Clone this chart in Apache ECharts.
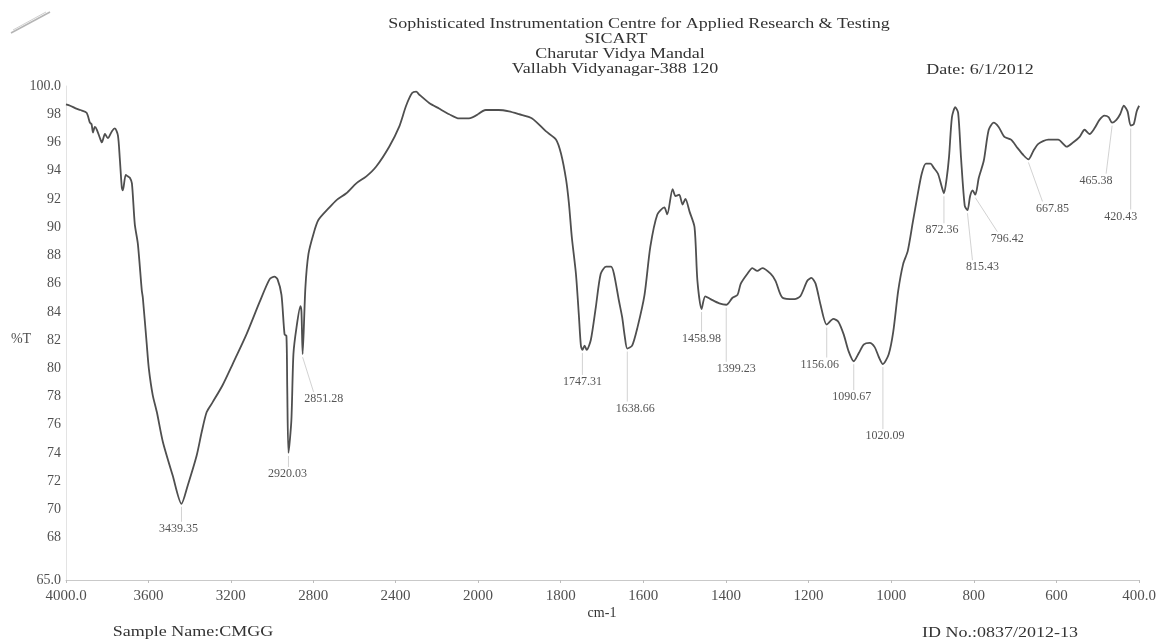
<!DOCTYPE html>
<html>
<head>
<meta charset="utf-8">
<title>FTIR spectrum - CMGG</title>
<script src="https://cdn.jsdelivr.net/npm/echarts@6/dist/echarts.min.js"></script>
<style>
  html, body { margin: 0; padding: 0; background: #ffffff; }
  #chart { width: 1159px; height: 641px; }
</style>
</head>
<body>
<div id="chart"></div>
<script>
// Spectrum, 4000-2000 cm-1 section (wavenumber, %T)
const waveHigh = [4000, 3980, 3950, 3930, 3900, 3884, 3876, 3869, 3860, 3850,
  3835, 3826, 3811, 3797, 3777, 3763, 3748, 3739, 3729, 3724,
  3710, 3700, 3690, 3680, 3666, 3651, 3632, 3627, 3608, 3598,
  3579, 3559, 3530, 3482, 3439.35, 3409, 3366, 3341, 3317, 3288,
  3240, 3191, 3124, 3060, 3012, 2988, 2973, 2954, 2939, 2930,
  2926, 2920.03, 2906, 2896, 2881, 2862, 2857, 2851.28, 2838, 2823,
  2799, 2775, 2721, 2688, 2639, 2591, 2542, 2494, 2431, 2383,
  2349, 2320, 2300, 2286, 2237, 2189, 2140, 2092, 2044, 2000];
const transHigh = [98.7, 98.6, 98.4, 98.3, 98.1, 97.4, 97.3, 96.7, 97.1, 96.9,
  96.3, 96.0, 96.6, 96.3, 96.8, 97.0, 96.5, 94.9, 92.8, 92.6,
  93.7, 93.6, 93.5, 93.1, 90.2, 88.8, 85.5, 85.0, 81.7, 80.0,
  78.1, 76.9, 74.8, 72.4, 70.4, 71.7, 73.8, 75.5, 76.9, 77.6,
  78.8, 80.3, 82.4, 84.7, 86.3, 86.5, 86.3, 85.2, 82.4, 82.3,
  78.6, 74.0, 76.3, 81.0, 82.9, 84.4, 84.0, 81.0, 85.7, 88.1,
  89.5, 90.5, 91.4, 91.9, 92.4, 93.1, 93.6, 94.3, 95.7, 97.1,
  98.6, 99.5, 99.6, 99.4, 98.8, 98.4, 98.0, 97.7, 97.7, 98.0];

// Spectrum, 2000-400 cm-1 section (wavenumber, %T)
const waveLow = [2000, 1981, 1950, 1925, 1901, 1869, 1836, 1811, 1799, 1787,
  1780, 1773, 1763, 1756, 1751, 1747.31, 1742, 1737, 1727, 1715,
  1703, 1690, 1678, 1671, 1659, 1651, 1645, 1638.66, 1627, 1614,
  1597, 1583, 1566, 1549, 1542, 1529, 1522, 1513, 1505, 1498,
  1488, 1476, 1469, 1458.98, 1450, 1437, 1416, 1399.23, 1384, 1372,
  1364, 1348, 1336, 1324, 1312, 1292, 1280, 1263, 1234, 1220,
  1203, 1193, 1183, 1171, 1156.06, 1140, 1128, 1115, 1103, 1090.67,
  1078, 1066, 1052, 1040, 1030, 1020.09, 1006, 995, 983, 971,
  960, 948, 936, 926, 916, 905, 897, 887, 878, 872.36,
  866, 860, 853, 845, 838, 831, 822, 815.43, 809, 803,
  796.42, 788, 776, 764, 752, 740, 726, 710, 694, 680,
  667.85, 656, 644, 620, 596, 575, 560, 544, 532, 520,
  508, 496, 484, 474, 465.38, 455, 446, 437, 428, 420.43,
  413, 406, 400];
const transLow = [98.0, 98.3, 98.3, 98.2, 98.0, 97.7, 96.8, 96.2, 95.2, 93.4,
  91.7, 89.3, 86.7, 83.8, 81.6, 81.3, 81.6, 81.3, 82.0, 84.3,
  86.7, 87.2, 87.2, 86.7, 84.8, 83.6, 82.3, 81.4, 81.6, 82.9,
  85.2, 88.6, 90.9, 91.4, 90.9, 92.7, 92.2, 92.3, 91.6, 92.0,
  91.1, 90.0, 86.2, 84.2, 85.1, 84.9, 84.6, 84.5, 85.0, 85.2,
  86.0, 86.7, 87.1, 86.9, 87.1, 86.7, 86.2, 85.0, 84.9, 85.1,
  86.2, 86.4, 86.0, 84.5, 83.1, 83.5, 83.3, 82.4, 81.2, 80.5,
  81.1, 81.7, 81.8, 81.5, 80.8, 80.3, 81.0, 82.6, 85.5, 87.4,
  88.3, 90.3, 92.3, 93.8, 94.5, 94.5, 94.2, 93.8, 92.9, 92.4,
  93.4, 95.0, 97.8, 98.5, 98.1, 94.9, 91.5, 91.2, 92.2, 92.6,
  92.3, 93.5, 94.7, 96.9, 97.4, 97.1, 96.4, 96.2, 95.6, 95.1,
  94.8, 95.4, 95.9, 96.2, 96.2, 95.7, 96.0, 96.4, 96.9, 96.6,
  97.0, 97.6, 97.9, 97.8, 97.4, 97.6, 98.0, 98.6, 98.2, 97.2,
  97.3, 98.2, 98.6];

// Peak picks (cm-1); their %T is looked up from the spectrum
const peakWave = [3439.35, 2920.03, 2851.28, 1747.31, 1638.66, 1458.98, 1399.23,
  1156.06, 1090.67, 1020.09, 872.36, 815.43, 796.42, 667.85, 465.38, 420.43];

// Axis tick values
const xTicksHigh = [2000, 2400, 2800, 3200, 3600, 4000];
const xTicksLow = [400, 600, 800, 1000, 1200, 1400, 1600, 1800, 2000];
const yTicks = [65, 68, 70, 72, 74, 76, 78, 80, 82, 84, 86, 88, 90, 92, 94, 96, 98, 100];

// Placement of each peak tag relative to its peak, in pixels [dx, dy]
const peakTagShift = [[-3, 25], [-1, 21], [21, 45], [0, 32], [8, 60], [0, 30], [10, 64],
  [-7, 40], [-2, 36], [2, 72], [-2, 37], [15, 57], [32, 44], [24, 49], [-16, 58], [-10, 91]];

const SERIF = '"Liberation Serif", "DejaVu Serif", serif';
const LINE_COLOR = '#4f4f4f';
const TEXT_COLOR = '#333333';
const TICK_COLOR = '#505050';
// the printed header and footer type is set a little wide
const WIDE = 1.16;

function toPairs(xs, ys) {
  return xs.map((x, i) => [x, ys[i]]);
}

function peakItems(high) {
  const items = [];
  peakWave.forEach((w, i) => {
    const inHigh = w >= 2000;
    if (inHigh !== high) return;
    const xs = high ? waveHigh : waveLow;
    const ys = high ? transHigh : transLow;
    items.push([w, ys[xs.indexOf(w)], i]);
  });
  return items;
}

// Leader line from the peak down to its tag, plus the tag text
function renderPeakTag(params, api) {
  const idx = api.value(2);
  const w = api.value(0);
  const p = api.coord([w, api.value(1)]);
  const s = peakTagShift[idx];
  const cx = p[0] + s[0];
  const cy = p[1] + s[1];
  const reach = 10;
  const ex = Math.min(Math.max(p[0], cx - reach), cx + reach);
  return {
    type: 'group',
    children: [
      {
        type: 'line',
        shape: { x1: p[0], y1: p[1] + 3, x2: ex, y2: cy - 7 },
        style: { stroke: '#c6c6c6', lineWidth: 0.8 }
      },
      {
        type: 'text',
        x: cx,
        y: cy,
        style: {
          text: w.toFixed(2),
          fill: '#555555',
          font: '12px ' + SERIF,
          align: 'center',
          verticalAlign: 'middle'
        }
      }
    ]
  };
}

function printedText(text, x, y, size) {
  return {
    type: 'text', x: x, y: y, scaleX: WIDE,
    style: { text: text, fill: TEXT_COLOR, font: size + 'px ' + SERIF,
      align: 'center', verticalAlign: 'middle' }
  };
}

const gridTop = 86;
const gridBottom = 61;

const yAxisBase = {
  type: 'value',
  min: 65,
  max: 100,
  splitLine: { show: false },
  axisTick: { show: false }
};

const xAxisBase = {
  type: 'value',
  inverse: true,
  splitLine: { show: false },
  axisLine: { show: true, lineStyle: { color: '#c9c9c9', width: 1 } },
  axisTick: { show: true, length: 3, lineStyle: { color: '#bdbdbd' } },
  axisLabel: {
    color: TICK_COLOR,
    fontFamily: SERIF,
    fontSize: 15,
    margin: 9
  }
};

const chart = echarts.init(document.getElementById('chart'), null, { renderer: 'canvas' });

chart.setOption({
  backgroundColor: '#ffffff',
  animation: false,
  grid: [
    { left: 66, width: 412, top: gridTop, bottom: gridBottom },
    { left: 478, width: 665, top: gridTop, bottom: gridBottom }
  ],
  xAxis: [
    Object.assign({}, xAxisBase, {
      gridIndex: 0,
      min: 2000,
      max: 4000,
      interval: 400,
      axisLabel: Object.assign({}, xAxisBase.axisLabel, {
        customValues: xTicksHigh,
        formatter: v => (v === 4000 ? '4000.0' : String(v))
      }),
      axisTick: Object.assign({}, xAxisBase.axisTick, { customValues: xTicksHigh })
    }),
    Object.assign({}, xAxisBase, {
      gridIndex: 1,
      min: 400,
      max: 2000,
      interval: 200,
      axisLabel: Object.assign({}, xAxisBase.axisLabel, {
        customValues: xTicksLow.filter(v => v !== 2000),
        formatter: v => (v === 400 ? '400.0' : String(v))
      }),
      axisTick: Object.assign({}, xAxisBase.axisTick, { customValues: xTicksLow })
    })
  ],
  yAxis: [
    Object.assign({}, yAxisBase, {
      gridIndex: 0,
      axisLine: { show: true, lineStyle: { color: '#e3e3e3', width: 1 } },
      axisLabel: {
        color: TICK_COLOR,
        fontFamily: SERIF,
        fontSize: 14,
        margin: 5,
        customValues: yTicks,
        formatter: v => (v === 65 || v === 100 ? v.toFixed(1) : String(v))
      }
    }),
    Object.assign({}, yAxisBase, {
      gridIndex: 1,
      show: false
    })
  ],
  series: [
    {
      type: 'line',
      xAxisIndex: 0,
      yAxisIndex: 0,
      data: toPairs(waveHigh, transHigh),
      showSymbol: false,
      symbol: 'none',
      smooth: 0.25,
      lineStyle: { color: LINE_COLOR, width: 1.8 },
      z: 3
    },
    {
      type: 'line',
      xAxisIndex: 1,
      yAxisIndex: 1,
      data: toPairs(waveLow, transLow),
      showSymbol: false,
      symbol: 'none',
      smooth: 0.25,
      lineStyle: { color: LINE_COLOR, width: 1.8 },
      z: 3
    },
    {
      type: 'custom',
      xAxisIndex: 0,
      yAxisIndex: 0,
      clip: false,
      data: peakItems(true),
      renderItem: renderPeakTag,
      z: 2
    },
    {
      type: 'custom',
      xAxisIndex: 1,
      yAxisIndex: 1,
      clip: false,
      data: peakItems(false),
      renderItem: renderPeakTag,
      z: 2
    }
  ],
  graphic: [
    // worn page edge in the top-left corner
    {
      type: 'polyline',
      shape: { points: [[11, 33], [50, 12]] },
      style: { stroke: '#b5b5b5', lineWidth: 1.6 }
    },
    {
      type: 'polyline',
      shape: { points: [[13, 30], [46, 12]] },
      style: { stroke: '#cfcfcf', lineWidth: 1 }
    },
    printedText('Sophisticated Instrumentation Centre for Applied Research & Testing', 639, 24, 15.5),
    printedText('SICART', 616, 39, 15.5),
    printedText('Charutar Vidya Mandal', 620, 54, 15.5),
    printedText('Vallabh Vidyanagar-388 120', 615, 69, 15.5),
    printedText('Date: 6/1/2012', 980, 70, 15.5),
    printedText('Sample Name:CMGG', 193, 632, 15.5),
    printedText('ID No.:0837/2012-13', 1000, 633, 15.5),
    {
      type: 'text', x: 21, y: 339,
      style: { text: '%T', fill: TICK_COLOR, font: '14px ' + SERIF,
        align: 'center', verticalAlign: 'middle' }
    },
    {
      type: 'text', x: 602, y: 613,
      style: { text: 'cm-1', fill: TEXT_COLOR, font: '14px ' + SERIF,
        align: 'center', verticalAlign: 'middle' }
    }
  ]
});
</script>
</body>
</html>
